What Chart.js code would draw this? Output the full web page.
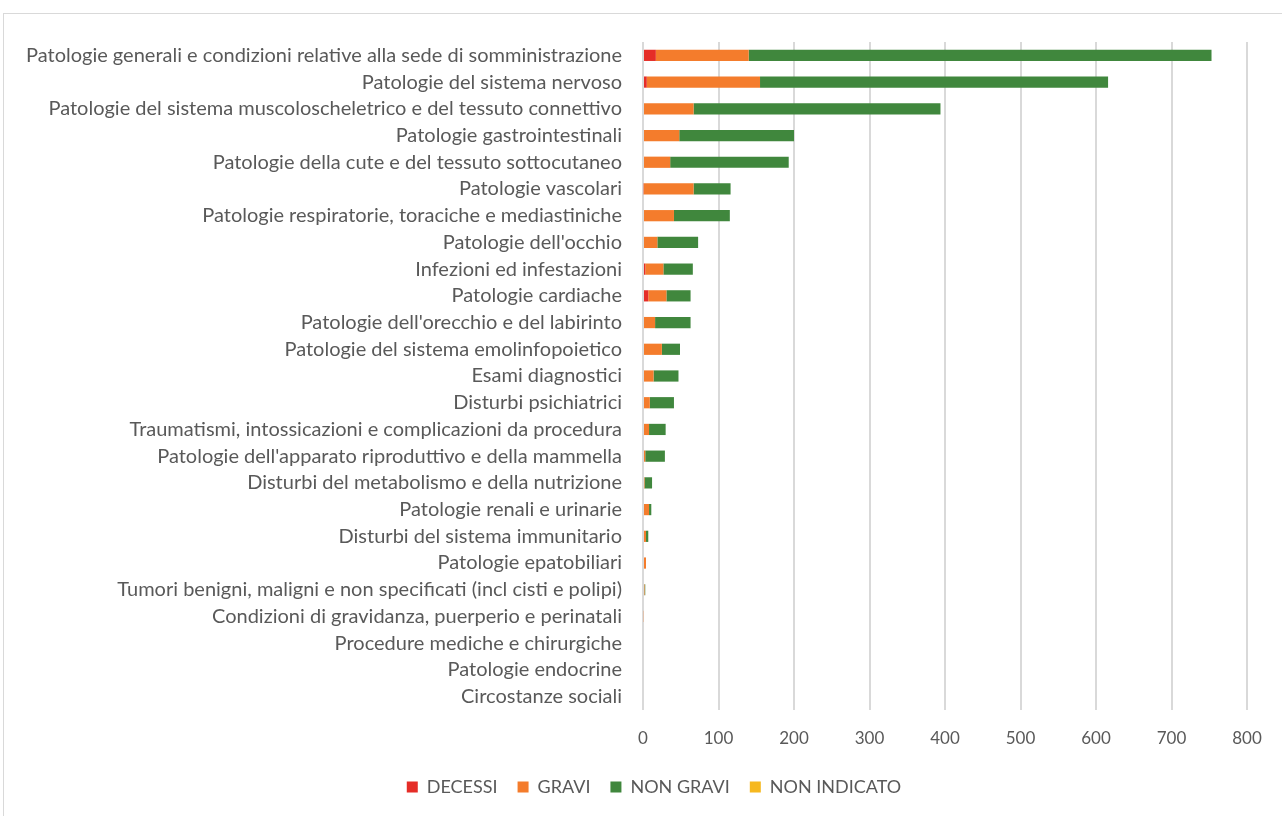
<!DOCTYPE html>
<html><head><meta charset="utf-8">
<script src="https://cdn.jsdelivr.net/npm/chart.js@4"></script>
<style>
html,body{margin:0;padding:0;background:#fff;overflow:hidden;}
#frame{position:absolute;left:3px;top:13px;width:1300px;height:830px;border:1px solid #d9d9d9;box-sizing:border-box;}
canvas{position:absolute;left:0;top:0;}
</style></head>
<body>
<div id="frame"></div>
<canvas id="c" width="1282" height="816"></canvas>
<script>
const categories = [
 "Patologie generali e condizioni relative alla sede di somministrazione",
 "Patologie del sistema nervoso",
 "Patologie del sistema muscoloscheletrico e del tessuto connettivo",
 "Patologie gastrointestinali",
 "Patologie della cute e del tessuto sottocutaneo",
 "Patologie vascolari",
 "Patologie respiratorie, toraciche e mediastiniche",
 "Patologie dell'occhio",
 "Infezioni ed infestazioni",
 "Patologie cardiache",
 "Patologie dell'orecchio e del labirinto",
 "Patologie del sistema emolinfopoietico",
 "Esami diagnostici",
 "Disturbi psichiatrici",
 "Traumatismi, intossicazioni e complicazioni da procedura",
 "Patologie dell'apparato riproduttivo e della mammella",
 "Disturbi del metabolismo e della nutrizione",
 "Patologie renali e urinarie",
 "Disturbi del sistema immunitario",
 "Patologie epatobiliari",
 "Tumori benigni, maligni e non specificati (incl cisti e polipi)",
 "Condizioni di gravidanza, puerperio e perinatali",
 "Procedure mediche e chirurgiche",
 "Patologie endocrine",
 "Circostanze sociali"
];
const decessi    = [17, 5, 0, 0, 0, 1, 0, 0, 3, 7, 0, 0, 0, 0, 0, 0, 0, 0, 0, 0, 0, 0, 0, 0, 0];
const gravi      = [123, 150, 67, 48, 36, 66, 41, 19, 24, 24, 16, 25, 14, 9, 8, 3, 2, 8, 4, 4, 2, 1, 0, 0, 0];
const nonGravi   = [613, 461, 327, 152, 157, 49, 74, 54, 39, 32, 47, 24, 33, 32, 22, 26, 10, 3, 3, 0, 1, 0, 0, 0, 0];
const nonIndicato= [0, 0, 0, 0, 0, 0, 0, 0, 0, 0, 0, 0, 0, 0, 0, 0, 0, 0, 0, 0, 0, 0, 0, 0, 0];
const xTicks = [0, 100, 200, 300, 400, 500, 600, 700, 800];

const FONT = "Lato";
const TXT = "#595959";
const PADL = 10;

const legendShift = {
  id: 'legendShift',
  afterLayout(chart) {
    const l = chart.legend;
    if (!l) return;
    const cur = (l.left + l.right) / 2;
    const d = 654 - cur;
    l.left += d; l.right += d;
  }
};

new Chart(document.getElementById('c'), {
  type: 'bar',
  data: {
    labels: categories,
    datasets: [
      {label: 'DECESSI', data: decessi, backgroundColor: '#e52d27'},
      {label: 'GRAVI', data: gravi, backgroundColor: '#f47c2c'},
      {label: 'NON GRAVI', data: nonGravi, backgroundColor: '#40873d'},
      {label: 'NON INDICATO', data: nonIndicato, backgroundColor: '#f6b81f'}
    ]
  },
  plugins: [legendShift],
  options: {
    indexAxis: 'y',
    responsive: false,
    animation: false,
    layout: {padding: {left: PADL, right: 35, top: 42, bottom: 10}},
    datasets: {bar: {categoryPercentage: 1, barPercentage: 0.42, borderWidth: 0}},
    scales: {
      x: {
        stacked: true, min: 0, max: 800,
        afterBuildTicks: s => { s.ticks = xTicks.map(v => ({value: v})); },
        afterFit: s => { s.height = 48; },
        grid: {color: '#d9d9d9', lineWidth: 2, drawTicks: false},
        border: {display: false},
        ticks: {color: TXT, font: {family: FONT, size: 17}, padding: 18}
      },
      y: {
        stacked: true,
        afterFit: s => { s.width = 643 - PADL; },
        grid: {display: false, drawTicks: false},
        border: {display: false},
        ticks: {color: TXT, font: {family: FONT, size: 20}, padding: 21, autoSkip: false}
      }
    },
    plugins: {
      legend: {
        position: 'bottom',
        labels: {color: TXT, font: {family: FONT, size: 18}, boxWidth: 11, boxHeight: 11, padding: 20}
      },
      tooltip: {enabled: false}
    }
  }
});
</script>
</body></html>
